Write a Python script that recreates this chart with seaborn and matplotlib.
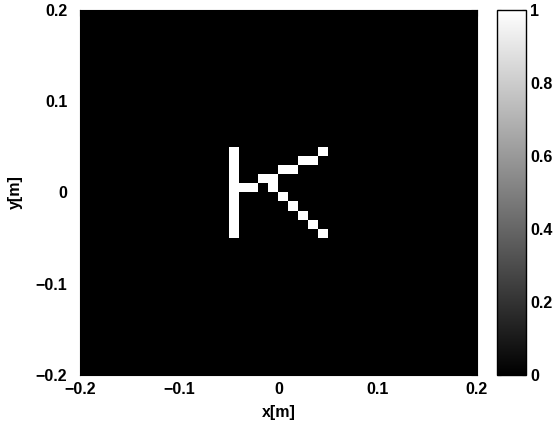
import numpy as np
import pandas as pd
import matplotlib
matplotlib.use("Agg")
import matplotlib.pyplot as plt
import seaborn as sns

#-----------------------------------------------------------------------------------------------------
# Data : 40 x 40 grid of 0.01 m cells, row 0 at the top (y = 0.2), col 0 at the left (x = -0.2)
#-----------------------------------------------------------------------------------------------------
grid_size = 40
x_limits = [-0.2, 0.2]
y_limits = [-0.2, 0.2]

# lit cells of the "K" (value 1), everything else is 0
k_rows = [15, 16, 17, 18, 19, 20, 21, 22, 23, 24,
          19, 19,
          18, 18, 19,
          17, 17,
          16, 16,
          15,
          20, 21, 22, 23, 24]
k_cols = [15, 15, 15, 15, 15, 15, 15, 15, 15, 15,
          16, 17,
          18, 19, 19,
          20, 21,
          22, 23,
          24,
          20, 21, 22, 23, 24]

x_ticks = [-0.2, -0.1, 0, 0.1, 0.2]
y_ticks = [0.2, 0.1, 0, -0.1, -0.2]
x_tick_labels = ["\u22120.2", "\u22120.1", "0", "0.1", "0.2"]
y_tick_labels = ["0.2", "0.1", "0", "\u22120.1", "\u22120.2"]
cbar_ticks = [0, 0.2, 0.4, 0.6, 0.8, 1]
cbar_tick_labels = ["0", "0.2", "0.4", "0.6", "0.8", "1"]


#-----------------------------------------------------------------------------------------------------
# Function Name    : build_image
# Description      : Builds the intensity grid from the lit cell lists
#-----------------------------------------------------------------------------------------------------
def build_image():
    image = np.zeros((grid_size, grid_size))
    image[k_rows, k_cols] = 1.0
    cell = (x_limits[1] - x_limits[0]) / grid_size
    x_centers = np.round(x_limits[0] + cell * (np.arange(grid_size) + 0.5), 3)
    y_centers = np.round(y_limits[1] - cell * (np.arange(grid_size) + 0.5), 3)
    return pd.DataFrame(image, index=y_centers, columns=x_centers)


#-----------------------------------------------------------------------------------------------------
# Function Name    : plot_image
# Description      : Draws the grid as a gray heatmap with a colorbar
#-----------------------------------------------------------------------------------------------------
def plot_image(df):
    sns.set_style("white")
    plt.rcParams["font.family"] = ["Liberation Sans", "DejaVu Sans"]
    plt.rcParams["font.weight"] = "bold"
    plt.rcParams["text.color"] = "black"
    plt.rcParams["axes.labelcolor"] = "black"
    plt.rcParams["xtick.color"] = "black"
    plt.rcParams["ytick.color"] = "black"

    fig = plt.figure(figsize=(5.55, 4.37), dpi=100)
    ax = fig.add_axes([0.144, 0.142, 0.715, 0.836])
    cax = fig.add_axes([0.895, 0.142, 0.053, 0.836])

    sns.heatmap(df, cmap="gray", vmin=0, vmax=1, ax=ax, cbar_ax=cax,
                xticklabels=False, yticklabels=False)

    # map metre ticks onto heatmap cell coordinates
    cell = (x_limits[1] - x_limits[0]) / grid_size
    ax.set_xticks([(t - x_limits[0]) / cell for t in x_ticks])
    ax.set_xticklabels(x_tick_labels, fontsize=11.5, fontweight="bold")
    ax.set_yticks([(y_limits[1] - t) / cell for t in y_ticks])
    ax.set_yticklabels(y_tick_labels, fontsize=11.5, fontweight="bold", rotation=0)
    ax.tick_params(direction="in", length=4, top=True, right=True, pad=5,
                   colors="black")
    ax.tick_params(axis="y", pad=9)
    for spine in ax.spines.values():
        spine.set_visible(True)
        spine.set_color("black")
        spine.set_linewidth(0.8)

    ax.set_xlabel("x[m]", fontsize=11.5, fontweight="bold", labelpad=6, color="black")
    ax.set_ylabel("y[m]", fontsize=11.5, fontweight="bold", labelpad=9, color="black")

    cbar = ax.collections[0].colorbar
    cbar.set_ticks(cbar_ticks)
    cbar.set_ticklabels(cbar_tick_labels)
    cbar.outline.set_visible(True)
    cbar.outline.set_linewidth(1.0)
    cbar.outline.set_edgecolor("black")
    cax.tick_params(direction="in", length=3, left=True, right=True,
                    labelsize=11.5, pad=3, colors="black")
    for label in cax.get_yticklabels():
        label.set_fontweight("bold")

    fig.savefig("out.png", dpi=100)


def main():
    plot_image(build_image())


if __name__ == "__main__":
    main()
